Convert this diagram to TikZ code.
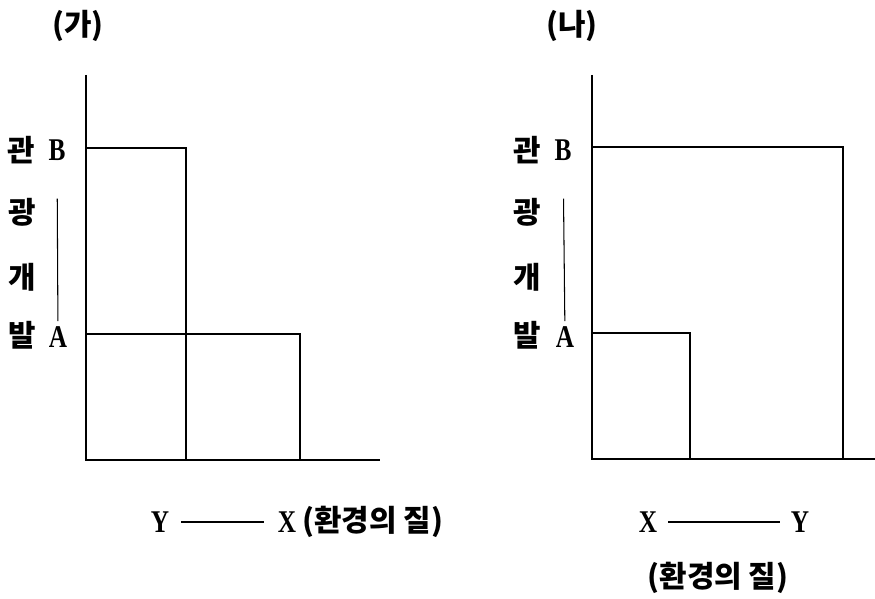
\documentclass[tikz,border=0pt]{standalone}
\usepackage{fontspec}
\setmainfont{Noto Sans CJK KR}
\newfontfamily\latfont{Liberation Serif}[FakeStretch=0.8]

\begin{document}
\begin{tikzpicture}[x=0.02cm,y=-0.02cm,
  ax/.style={line width=1.1pt},
  bx/.style={line width=1pt},
  kor/.style={font=\fontsize{17}{19}\selectfont\bfseries, inner sep=0pt},
  lat/.style={font=\fontsize{18}{20}\selectfont\latfont\bfseries, inner sep=0pt},
  tick/.style={line width=0.6pt, shorten <=0.1cm, shorten >=0.76cm}]
\useasboundingbox (0,0) rectangle (875,598);

% (ga)
\node[kor] (gaT) at (78,26) {(가)};
\draw[ax] (86,75)--(86,460)--(380,460);
\draw[bx] (86,148)--(186,148)--(186,460);
\draw[bx] (86,334)--(300,334)--(300,460);

\node[kor] (ga1) at (21,150) {관};
\node[kor] (ga2) at (22,212) {광};
\node[kor] (ga3) at (22,277) {개};
\node[kor] (ga4) at (22,335) {발};
\node[lat] (gaB) at (57,150) {B};
\node[lat] (gaA) at (58,337) {A};
\draw[tick] (gaA) -- (gaB);

\node[lat] (gaY) at (160,522) {Y};
\node[lat] (gaX) at (287,522) {X};
\draw[line width=0.6pt, shorten <=0.24cm, shorten >=0.28cm] (gaY) -- (gaX);
\node[kor, anchor=west] (gaQ) at (302,522) {(환경의 질)};

% (na)
\node[kor] (naT) at (572,26) {(나)};
\draw[ax] (592,75)--(592,459)--(875,459);
\draw[bx] (592,147)--(843,147)--(843,459);
\draw[bx] (592,333)--(690,333)--(690,459);

\node[kor] (na1) at (527,150) {관};
\node[kor] (na2) at (527,212) {광};
\node[kor] (na3) at (527,277) {개};
\node[kor] (na4) at (527,335) {발};
\node[lat] (naB) at (563,150) {B};
\node[lat] (naA) at (565,337) {A};
\draw[tick] (naA) -- (naB);

\node[lat] (naX) at (648,522) {X};
\node[lat] (naY) at (800,522) {Y};
\draw[line width=0.6pt, shorten <=0.22cm, shorten >=0.22cm] (naX) -- (naY);
\node[kor] (naQ) at (718,578) {(환경의 질)};
\end{tikzpicture}
\end{document}
